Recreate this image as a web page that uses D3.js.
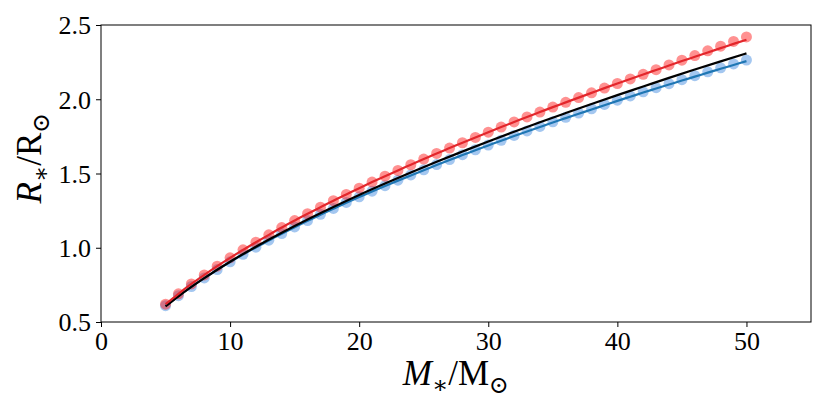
<!DOCTYPE html>
<html><head><meta charset="utf-8">
<script src="https://cdn.jsdelivr.net/npm/d3@7"></script>
<style>
body{margin:0;background:#fff;}
text{font-family:"Liberation Serif","DejaVu Serif",serif;}
</style></head>
<body><svg id="c" width="830" height="415"></svg>
<script>
const masses = d3.range(5, 51, 1);
const redDots = [0.620,0.690,0.756,0.817,0.876,0.932,0.986,1.037,1.087,1.136,1.183,1.229,1.273,1.317,1.359,1.401,1.442,1.482,1.521,1.559,1.597,1.635,1.671,1.707,1.743,1.778,1.813,1.847,1.881,1.914,1.947,1.979,2.011,2.043,2.075,2.106,2.137,2.168,2.199,2.231,2.263,2.294,2.326,2.357,2.389,2.420];
const redLine = [0.620,0.690,0.756,0.817,0.876,0.932,0.986,1.037,1.087,1.136,1.183,1.229,1.273,1.317,1.359,1.401,1.442,1.482,1.521,1.559,1.597,1.635,1.671,1.707,1.743,1.778,1.813,1.847,1.881,1.914,1.947,1.979,2.011,2.043,2.075,2.106,2.136,2.167,2.197,2.227,2.257,2.286,2.315,2.344,2.373,2.401];
const blueDots = [0.610,0.677,0.739,0.797,0.853,0.905,0.956,1.004,1.051,1.096,1.140,1.183,1.225,1.265,1.305,1.343,1.381,1.418,1.455,1.490,1.525,1.560,1.594,1.627,1.660,1.692,1.724,1.756,1.787,1.817,1.848,1.878,1.907,1.936,1.965,1.994,2.022,2.050,2.078,2.105,2.132,2.159,2.185,2.212,2.238,2.264];
const blueLine = [0.608,0.675,0.737,0.795,0.851,0.903,0.954,1.002,1.049,1.094,1.138,1.181,1.223,1.263,1.303,1.341,1.379,1.416,1.452,1.487,1.522,1.557,1.591,1.624,1.657,1.689,1.721,1.752,1.783,1.813,1.844,1.873,1.902,1.931,1.960,1.989,2.017,2.045,2.072,2.099,2.126,2.152,2.179,2.205,2.231,2.257];
const blackM = [5,6,7,8,9,10,12,14,16,18,20,22,24,26,28,30,32,34,36,38,40,42,44,46,48,50];
const blackR = [0.605,0.673,0.736,0.795,0.852,0.906,1.007,1.101,1.190,1.274,1.355,1.432,1.507,1.579,1.648,1.716,1.781,1.845,1.907,1.968,2.028,2.086,2.144,2.200,2.255,2.309];
const xTicks = [0,10,20,30,40,50];
const yTicks = [0.5,1.0,1.5,2.0,2.5];

const svg = d3.select("#c");
const L=101, R=811, T=25, B=322;
const x = d3.scaleLinear().domain([0,55]).range([L,R]);
const y = d3.scaleLinear().domain([0.5,2.5]).range([B,T]);

svg.append("clipPath").attr("id","cp").append("rect")
  .attr("x",L).attr("y",T).attr("width",R-L).attr("height",B-T);
const plot = svg.append("g").attr("clip-path","url(#cp)");

plot.selectAll(".bd").data(masses).join("circle")
  .attr("cx",d=>x(d)).attr("cy",(d,i)=>y(blueDots[i])).attr("r",5.5)
  .attr("fill","#4a90e2").attr("fill-opacity",0.5);
plot.selectAll(".rd").data(masses).join("circle")
  .attr("cx",d=>x(d)).attr("cy",(d,i)=>y(redDots[i])).attr("r",5.5)
  .attr("fill","#ff1a1a").attr("fill-opacity",0.48);

const line = d3.line().curve(d3.curveMonotoneX);
plot.append("path").attr("d",line(masses.map((m,i)=>[x(m),y(blueLine[i])])))
  .attr("fill","none").attr("stroke","#1f77b4").attr("stroke-width",2.2);
plot.append("path").attr("d",line(blackM.map((m,i)=>[x(m),y(blackR[i])])))
  .attr("fill","none").attr("stroke","#000").attr("stroke-width",2.2);
plot.append("path").attr("d",line(masses.map((m,i)=>[x(m),y(redLine[i])])))
  .attr("fill","none").attr("stroke","#e3262b").attr("stroke-width",2.2);

svg.append("rect").attr("x",L).attr("y",T).attr("width",R-L).attr("height",B-T)
  .attr("fill","none").attr("stroke","#000").attr("stroke-width",1);

const xa = svg.append("g").attr("transform",`translate(0,${B})`)
  .call(d3.axisBottom(x).tickValues(xTicks).tickSize(5).tickFormat(d3.format("d")));
xa.select(".domain").remove();
xa.selectAll("text").attr("font-size",26).attr("fill","#000").attr("y",28).attr("dy","0")
  .style("font-family",'"Liberation Serif",serif');
const ya = svg.append("g").attr("transform",`translate(${L},0)`)
  .call(d3.axisLeft(y).tickValues(yTicks).tickSize(5).tickPadding(5).tickFormat(d3.format(".1f")));
ya.select(".domain").remove();
ya.selectAll("text").attr("font-size",26).attr("fill","#000").attr("dy","0.34em")
  .style("font-family",'"Liberation Serif",serif');

const xl = svg.append("text").attr("x",(L+R)/2).attr("y",385).attr("text-anchor","middle").attr("font-size",35);
xl.append("tspan").attr("font-style","italic").text("M");
xl.append("tspan").attr("font-size",24).attr("dy",8).text("∗");
xl.append("tspan").attr("dy",-8).text("/M");
xl.append("tspan").attr("font-size",24).attr("dy",8).style("font-family",'"DejaVu Serif",serif').text("⊙");

const yl = svg.append("text").attr("transform",`translate(41,158) rotate(-90)`)
  .attr("text-anchor","middle").attr("font-size",35);
yl.append("tspan").attr("font-style","italic").text("R");
yl.append("tspan").attr("font-size",24).attr("dy",8).text("∗");
yl.append("tspan").attr("dy",-8).text("/R");
yl.append("tspan").attr("font-size",24).attr("dy",8).style("font-family",'"DejaVu Serif",serif').text("⊙");
</script></body></html>
